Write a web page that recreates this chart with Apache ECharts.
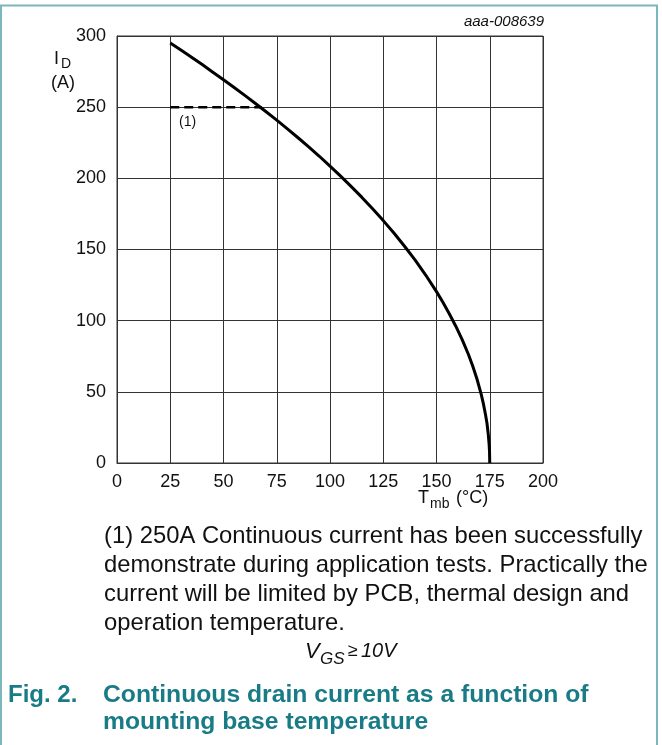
<!DOCTYPE html>
<html><head><meta charset="utf-8">
<script src="https://cdn.jsdelivr.net/npm/echarts@6/dist/echarts.min.js"></script>
<style>html,body{margin:0;padding:0;background:#fff}#c{width:662px;height:745px}</style>
</head><body><div id="c"></div>
<script>
// Data
const tmb = [25, 30, 35, 40, 45, 50, 55, 60, 65, 70, 75, 80, 85, 90, 95, 100, 105, 110, 115, 120, 125, 130, 135, 140, 145, 150, 153, 156, 159, 162, 165, 167, 169, 171, 172, 173, 173.7, 174.3, 174.7, 174.9, 175];
const idA = [295, 290.1, 285, 279.9, 274.6, 269.3, 263.8, 258.3, 252.6, 246.8, 240.9, 234.8, 228.5, 222.1, 215.5, 208.6, 201.5, 194.2, 186.6, 178.6, 170.3, 161.6, 152.3, 142.5, 131.9, 120.4, 112.9, 104.9, 96.3, 86.9, 76.2, 68.1, 59, 48.2, 41.7, 34.1, 27.9, 20.2, 13.2, 7.6, 0];
const limitT = [25, 68];
const limitI = [250, 250];
const xMin = 0, xMax = 200, xStep = 25;
const yMin = 0, yMax = 300, yStep = 50;
const noteLines = [
  "(1) 250A Continuous current has been successfully",
  "demonstrate during application tests. Practically the",
  "current will be limited by PCB, thermal design and",
  "operation temperature."
];
const figNo = "Fig. 2.";
const figTitle = ["Continuous drain current as a function of", "mounting base temperature"];
const docId = "aaa-008639";

const FONT = "'Liberation Sans', Arial, sans-serif";
const TEAL = "#187b86";
const chart = echarts.init(document.getElementById('c'));
const curve = tmb.map((t, i) => [t, idA[i]]);
const limit = limitT.map((t, i) => [t, limitI[i]]);

chart.setOption({
  animation: false,
  backgroundColor: '#fff',
  grid: { left: 117, top: 36, width: 426, height: 427, show: true, borderColor: '#333', borderWidth: 1, containLabel: false },
  xAxis: {
    type: 'value', min: xMin, max: xMax, interval: xStep,
    axisLine: { show: true, lineStyle: { color: '#333', width: 1 } },
    axisTick: { show: false },
    splitLine: { show: true, lineStyle: { color: '#333', width: 1 } },
    axisLabel: { color: '#111', fontSize: 18, fontFamily: FONT, margin: 10 }
  },
  yAxis: {
    type: 'value', min: yMin, max: yMax, interval: yStep,
    axisLine: { show: true, lineStyle: { color: '#333', width: 1 } },
    axisTick: { show: false },
    splitLine: { show: true, lineStyle: { color: '#333', width: 1 } },
    axisLabel: { color: '#111', fontSize: 18, fontFamily: FONT, margin: 11 }
  },
  series: [
    { type: 'line', data: limit, showSymbol: false, symbol: 'none',
      lineStyle: { color: '#000', width: 2.5, type: [9, 5] }, z: 3 },
    { type: 'line', data: curve, showSymbol: false, symbol: 'none', smooth: false,
      lineStyle: { color: '#000', width: 3, join: 'round' }, z: 4 }
  ],
  graphic: [
    { type: 'rect', shape: { x: 1, y: 5.5, width: 656, height: 800 }, style: { fill: 'none', stroke: '#7bb7bb', lineWidth: 2 }, silent: true },
    { type: 'text', x: 544, y: 22, style: { text: docId, fontSize: 15, fontStyle: 'italic', fontFamily: FONT, fill: '#111', align: 'right', verticalAlign: 'middle' } },
    // y axis name I_D (A)
    { type: 'text', x: 54, y: 59, style: { text: 'I', fontSize: 18, fontFamily: FONT, fill: '#111', align: 'left', verticalAlign: 'middle' } },
    { type: 'text', x: 61, y: 64, style: { text: 'D', fontSize: 14, fontFamily: FONT, fill: '#111', align: 'left', verticalAlign: 'middle' } },
    { type: 'text', x: 63, y: 83, style: { text: '(A)', fontSize: 18, fontFamily: FONT, fill: '#111', align: 'center', verticalAlign: 'middle' } },
    // x axis name T_mb (°C)
    { type: 'text', x: 418, y: 498, style: { text: 'T', fontSize: 18, fontFamily: FONT, fill: '#111', align: 'left', verticalAlign: 'middle' } },
    { type: 'text', x: 430, y: 504, style: { text: 'mb', fontSize: 14, fontFamily: FONT, fill: '#111', align: 'left', verticalAlign: 'middle' } },
    { type: 'text', x: 456, y: 498, style: { text: '(°C)', fontSize: 18, fontFamily: FONT, fill: '#111', align: 'left', verticalAlign: 'middle' } },
    // note marker
    { type: 'text', x: 179, y: 122, style: { text: '(1)', fontSize: 14, fontFamily: FONT, fill: '#111', align: 'left', verticalAlign: 'middle' } },
    // note text
    { type: 'text', x: 104, y: 522, style: { text: noteLines.join('\n'), fontSize: 23.8, lineHeight: 29, fontFamily: FONT, fill: '#111', align: 'left', verticalAlign: 'top' } },
    // VGS condition
    { type: 'text', x: 305, y: 652, style: { text: 'V', fontSize: 22, fontStyle: 'italic', fontFamily: FONT, fill: '#111', align: 'left', verticalAlign: 'middle' } },
    { type: 'text', x: 320, y: 659, style: { text: 'GS', fontSize: 17, fontStyle: 'italic', fontFamily: FONT, fill: '#111', align: 'left', verticalAlign: 'middle' } },
    { type: 'text', x: 348, y: 651, style: { text: '\u2265', fontSize: 18, fontFamily: FONT, fill: '#111', align: 'left', verticalAlign: 'middle' } },
    { type: 'text', x: 361, y: 651, style: { text: '10V', fontSize: 20, fontStyle: 'italic', fontFamily: FONT, fill: '#111', align: 'left', verticalAlign: 'middle' } },
    // figure caption
    { type: 'text', x: 8, y: 695, style: { text: figNo, fontSize: 24, fontWeight: 'bold', fontFamily: FONT, fill: TEAL, align: 'left', verticalAlign: 'middle' } },
    { type: 'text', x: 103, y: 695, style: { text: figTitle[0], fontSize: 24.7, fontWeight: 'bold', fontFamily: FONT, fill: TEAL, align: 'left', verticalAlign: 'middle' } },
    { type: 'text', x: 103, y: 722, style: { text: figTitle[1], fontSize: 24.7, fontWeight: 'bold', fontFamily: FONT, fill: TEAL, align: 'left', verticalAlign: 'middle' } }
  ]
});
</script></body></html>
